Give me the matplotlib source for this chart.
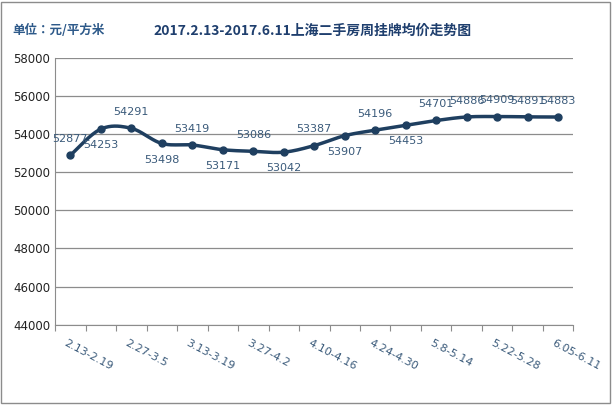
import numpy as np
import matplotlib
matplotlib.use("Agg")
import matplotlib.pyplot as plt
from matplotlib.patches import Rectangle

cjk = ["Noto Sans CJK JP", "Noto Sans CJK SC", "DejaVu Sans"]
plt.rcParams["font.family"] = cjk

weeks = ["2.13-2.19", "2.20-2.26", "2.27-3.5", "3.6-3.12", "3.13-3.19", "3.20-3.26",
         "3.27-4.2", "4.3-4.9", "4.10-4.16", "4.17-4.23", "4.24-4.30", "5.1-5.7",
         "5.8-5.14", "5.15-5.21", "5.22-5.28", "5.29-6.04", "6.05-6.11"]
prices = [52877, 54253, 54291, 53498, 53419, 53171, 53086, 53042, 53387,
          53907, 54196, 54453, 54701, 54886, 54909, 54891, 54883]
# label above (1) or below (-1) the point
label_side = [1, -1, 1, -1, 1, -1, 1, -1, 1, -1, 1, -1, 1, 1, 1, 1, 1]

line_color = "#1F3F60"
text_color = "#3A5A7A"


def smooth(xs, ys, n=20):
    # catmull-rom through the data points, only for drawing the curve
    pts = np.column_stack((xs, ys)).astype(float)
    p = np.vstack((pts[0], pts, pts[-1]))
    out = []
    t = np.linspace(0, 1, n, endpoint=False)[:, None]
    for i in range(1, len(p) - 2):
        p0, p1, p2, p3 = p[i - 1], p[i], p[i + 1], p[i + 2]
        seg = 0.5 * ((2 * p1) + (-p0 + p2) * t + (2 * p0 - 5 * p1 + 4 * p2 - p3) * t ** 2
                     + (-p0 + 3 * p1 - 3 * p2 + p3) * t ** 3)
        out.append(seg)
    out.append(pts[-1][None, :])
    out = np.vstack(out)
    return out[:, 0], out[:, 1]


fig = plt.figure(figsize=(6.12, 4.05), dpi=100)
ax = fig.add_axes([0.090, 0.198, 0.847, 0.660])

x = np.arange(len(prices))
sx, sy = smooth(x, prices)
ax.plot(sx, sy, color=line_color, lw=2.5, zorder=3)
ax.plot(x, prices, "o", color=line_color, ms=5, zorder=4)

for xi, v, s in zip(x, prices, label_side):
    ax.annotate(str(v), (xi, v), xytext=(0, 8 * s), textcoords="offset points",
                ha="center", va="bottom" if s > 0 else "top",
                fontsize=8, color=text_color, family="DejaVu Sans")

ax.set_xlim(-0.5, len(prices) - 0.5)
ax.set_ylim(44000, 58000)
ax.set_yticks(np.arange(44000, 58001, 2000))
ax.yaxis.grid(True, color="#8C8C8C", lw=0.9)
ax.set_axisbelow(True)
ax.set_xticks(np.arange(-0.5, len(prices)), minor=False)
ax.set_xticklabels([])
ax.tick_params(axis="x", length=4, color="#8C8C8C")
ax.tick_params(axis="y", length=0, labelsize=8.5, labelcolor="#222222")
for lbl in ax.get_yticklabels():
    lbl.set_family("DejaVu Sans")
for side in ["top", "right"]:
    ax.spines[side].set_visible(False)
ax.spines["left"].set_color("#8C8C8C")
ax.spines["bottom"].set_color("#8C8C8C")

for i in range(0, len(weeks), 2):
    ax.text(i - 0.1, 43300, weeks[i], rotation=-28, ha="left", va="top",
            fontsize=8, color=text_color, rotation_mode="anchor", family="DejaVu Sans")

fig.text(0.02, 0.925, "单位：元/平方米", fontsize=9, fontweight="bold", color="#2E5A8A",
         va="center", family=cjk)
fig.text(0.51, 0.925, "2017.2.13-2017.6.11上海二手房周挂牌均价走势图", fontsize=10,
         fontweight="bold", color="#1F3F6E", ha="center", va="center", family=cjk)

fig.patches.append(Rectangle((0.002, 0.004), 0.995, 0.992, transform=fig.transFigure,
                             fill=False, ec="#8C8C8C", lw=1))

fig.savefig("out.png", dpi=100)
